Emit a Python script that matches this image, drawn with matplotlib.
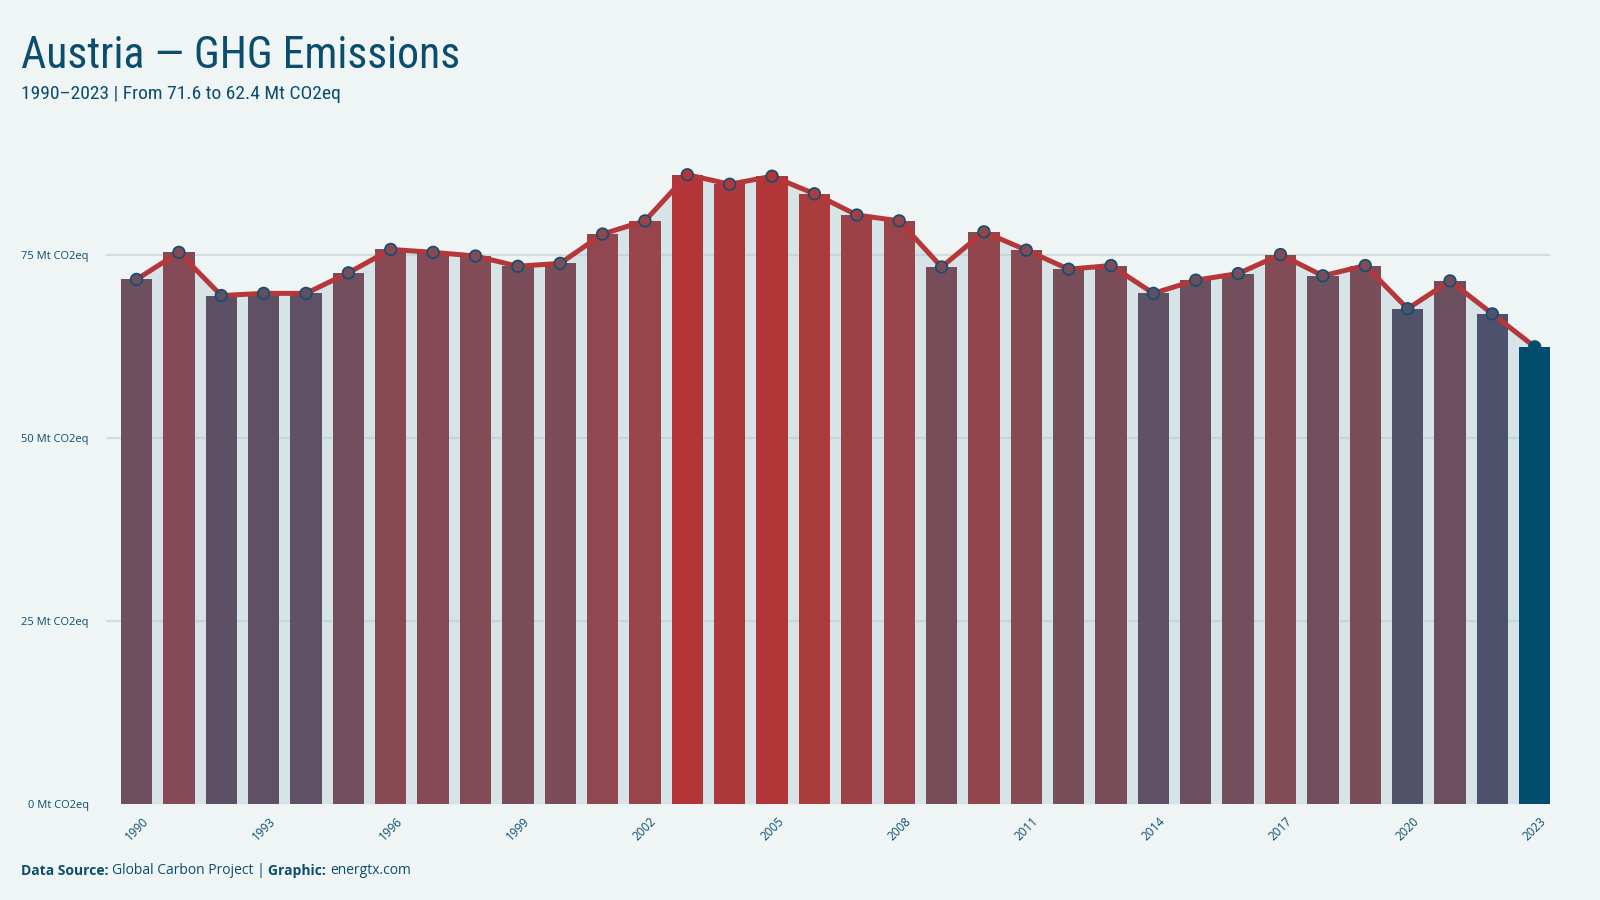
import numpy as np
import matplotlib
matplotlib.use("Agg")
import matplotlib.pyplot as plt
from matplotlib import font_manager
from matplotlib.colors import LinearSegmentedColormap, Normalize

# GHG emissions, Mt CO2eq
years = list(range(1990, 2024))
emissions = [71.6, 75.3, 69.4, 69.7, 69.7, 72.5, 75.7, 75.3, 74.8, 73.4,
             73.8, 77.8, 79.6, 85.9, 84.6, 85.7, 83.3, 80.4, 79.6, 73.3,
             78.1, 75.6, 73.0, 73.5, 69.7, 71.5, 72.4, 75.0, 72.1, 73.5,
             67.6, 71.4, 66.9, 62.4]
y_ticks = [0, 25, 50, 75]
y_tick_labels = ["0 Mt CO2eq", "25 Mt CO2eq", "50 Mt CO2eq", "75 Mt CO2eq"]

BG = "#eff5f5"
NAVY = "#0b4d6c"
RED = "#b5373a"
AREA = "#d6e3e7"
LAST = "#004d6d"

# look for a condensed face for the title
title_font, title_stretch = "Roboto", "normal"
for fam in ["Liberation Sans Narrow", "Roboto Condensed", "Open Sans", "Noto Sans", "DejaVu Sans"]:
    hits = [f for f in font_manager.fontManager.ttflist
            if f.name == fam and (fam.endswith(("Narrow", "Condensed")) or "ondensed" in str(f.stretch)
                                  or str(f.stretch) in ("semi-condensed", "condensed", "500", "400") and "Condensed" in f.fname)]
    if hits:
        title_font = fam
        title_stretch = "condensed"
        break
body_font = "Open Sans"

# bar colour scale: greyish purple (low) -> red (high)
cmap = LinearSegmentedColormap.from_list("emis", [
    (0.00, "#4d516b"), (0.14, "#5e5065"), (0.25, "#6e4f5e"),
    (0.35, "#7a4d59"), (0.45, "#864a55"), (0.67, "#98444a"),
    (0.86, "#aa3c3e"), (1.00, "#b33538")])
norm = Normalize(vmin=min(emissions[:-1]), vmax=max(emissions))
colors = [cmap(norm(v)) for v in emissions[:-1]] + [LAST]

fig = plt.figure(figsize=(16, 9), dpi=100, facecolor=BG)
ax = fig.add_axes([0.066, 0.107, 0.903, 0.72])
ax.set_facecolor(BG)

x = np.arange(len(years))
ax.fill_between(x, emissions, 0, color=AREA, lw=0, zorder=1)
for yv in y_ticks[1:]:
    ax.axhline(yv, color="#b5c8cc", alpha=0.5, lw=1.6, zorder=2)
ax.axhline(0, color="#c5d2d5", lw=0.9, ls=":", zorder=2)
ax.bar(x, emissions, width=0.74, color=colors, lw=0, zorder=3)
ax.plot(x, emissions, color=RED, lw=3.6, zorder=4, solid_capstyle="round")
ax.scatter(x, emissions, s=70, c=colors, edgecolors="#0f4f70",
           linewidths=1.2, zorder=5)

ax.set_xlim(-0.73, 33.37)
ax.set_ylim(0, 88.5)
ax.set_yticks(y_ticks)
ax.set_yticklabels(y_tick_labels, fontsize=8, color=NAVY, family=body_font)
xt = x[::3]
ax.set_xticks(xt)
ax.set_xticklabels([str(years[i]) for i in xt], rotation=45, ha="center",
                   fontsize=8.5, color=NAVY, family=body_font)
ax.tick_params(length=0, pad=8)
ax.tick_params(axis="y", pad=12)
for s in ax.spines.values():
    s.set_visible(False)

fig.text(0.013, 0.925, "Austria \u2014 GHG Emissions", fontsize=31.5,
         color=NAVY, family=title_font, stretch=title_stretch, va="baseline")
fig.text(0.013, 0.89, "1990\u20132023 | From 71.6 to 62.4 Mt CO2eq", fontsize=14,
         color=NAVY, family=title_font, stretch=title_stretch, va="baseline")

t1 = fig.text(0.013, 0.028, "Data Source: ", fontsize=10, color=NAVY,
              family=body_font, weight="bold", va="baseline")
t2 = ax.annotate("Global Carbon Project | ", xy=(1, 0), xycoords=t1,
                 va="bottom", fontsize=10, color=NAVY, family=body_font)
t3 = ax.annotate("Graphic: ", xy=(1, 0), xycoords=t2, va="bottom",
                 fontsize=10, color=NAVY, family=body_font, weight="bold")
ax.annotate("energtx.com", xy=(1, 0), xycoords=t3, va="bottom",
            fontsize=10, color=NAVY, family=body_font)

fig.savefig("out.png", dpi=100, facecolor=BG)
